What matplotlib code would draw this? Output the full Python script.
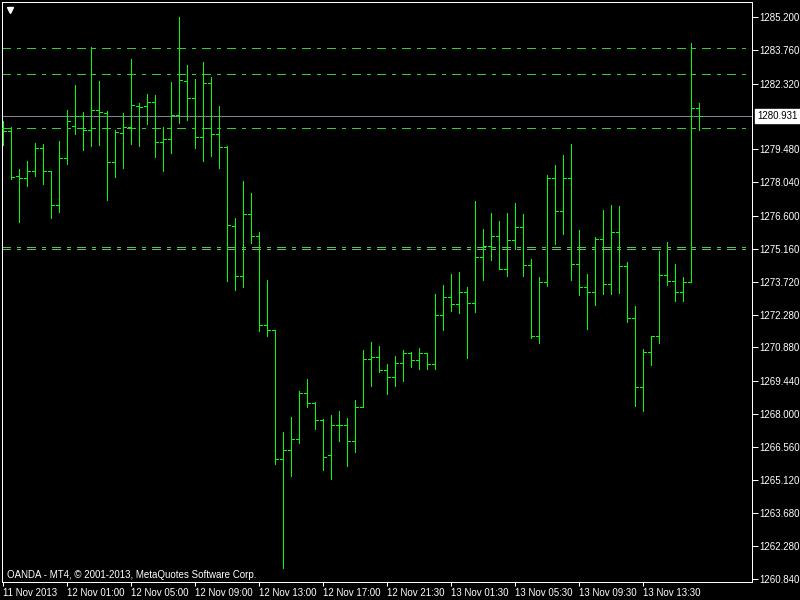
import matplotlib
matplotlib.use('Agg')
import numpy as np
import matplotlib.pyplot as plt
from matplotlib import transforms

plt.rcParams['font.family'] = ['Liberation Sans', 'DejaVu Sans']

# XAUUSD M30 bars
opens = [1280.40, 1280.27, 1278.30, 1278.22, 1278.52, 1279.52, 1278.52, 1277.05, 1279.08, 1280.49,
         1280.93, 1280.33, 1281.18, 1281.04, 1278.91, 1280.20, 1280.46, 1281.34, 1281.34, 1281.51,
         1279.78, 1279.91, 1280.95, 1282.43, 1281.70, 1280.00, 1282.34, 1280.13, 1279.56, 1276.15,
         1273.97, 1276.66, 1275.72, 1271.85, 1271.64, 1266.03, 1266.45, 1266.92, 1268.91, 1268.46,
         1267.72, 1266.20, 1267.51, 1267.51, 1266.81, 1268.29, 1270.37, 1270.45, 1269.89, 1269.59,
         1270.19, 1270.63, 1270.32, 1270.63, 1270.15, 1272.28, 1273.06, 1272.75, 1273.27, 1272.80,
         1274.79, 1275.27, 1275.70, 1274.27, 1275.53, 1276.09, 1274.44, 1271.37, 1273.71, 1278.22,
         1276.79, 1278.22, 1274.49, 1273.49, 1273.27, 1275.57, 1273.62, 1275.88, 1274.40, 1272.15,
         1269.15, 1270.67, 1271.37, 1274.01, 1273.75, 1273.27, 1273.71, 1281.25]
highs = [1280.70, 1280.46, 1278.62, 1278.97, 1279.75, 1279.70, 1278.53, 1279.83, 1281.18, 1282.26,
         1281.09, 1283.91, 1282.44, 1281.14, 1280.31, 1281.05, 1283.39, 1281.47, 1281.87, 1281.83,
         1280.46, 1282.39, 1285.23, 1283.14, 1282.52, 1283.27, 1282.62, 1281.36, 1279.61, 1276.51,
         1278.11, 1277.60, 1275.89, 1273.82, 1271.64, 1267.23, 1267.85, 1269.01, 1269.51, 1268.52,
         1267.78, 1267.95, 1268.13, 1267.82, 1268.60, 1270.77, 1271.12, 1270.94, 1270.16, 1270.51,
         1270.77, 1270.68, 1270.86, 1270.63, 1273.20, 1273.59, 1274.07, 1274.15, 1273.50, 1277.23,
         1276.02, 1276.71, 1276.37, 1276.71, 1277.15, 1276.67, 1274.72, 1273.94, 1278.36, 1278.79,
         1279.23, 1279.70, 1275.98, 1274.07, 1275.67, 1276.84, 1277.06, 1277.02, 1274.59, 1272.68,
         1270.81, 1271.37, 1275.06, 1275.45, 1274.50, 1273.94, 1284.09, 1281.48]
lows = [1279.66, 1278.19, 1276.34, 1277.90, 1278.33, 1277.98, 1276.51, 1276.77, 1278.85, 1280.14,
        1279.44, 1279.62, 1279.66, 1277.28, 1278.29, 1278.68, 1279.72, 1279.63, 1280.59, 1279.15,
        1278.55, 1279.33, 1280.63, 1280.76, 1279.52, 1278.95, 1279.17, 1278.65, 1273.75, 1273.36,
        1273.49, 1275.39, 1271.59, 1271.36, 1265.83, 1261.31, 1265.30, 1266.72, 1268.31, 1267.36,
        1265.58, 1265.19, 1266.84, 1265.75, 1266.36, 1268.31, 1269.22, 1269.83, 1268.88, 1269.22,
        1269.44, 1270.05, 1269.96, 1269.96, 1269.96, 1271.65, 1272.48, 1272.39, 1270.44, 1272.43,
        1273.82, 1274.69, 1274.27, 1273.99, 1275.14, 1273.99, 1271.30, 1271.06, 1273.56, 1275.38,
        1275.81, 1273.82, 1273.17, 1271.69, 1272.74, 1273.21, 1273.21, 1273.26, 1272.00, 1268.35,
        1268.14, 1270.13, 1271.09, 1273.60, 1272.91, 1272.91, 1273.71, 1280.30]
closes = [1280.28, 1278.26, 1278.22, 1278.52, 1279.52, 1278.52, 1277.05, 1279.08, 1280.70, 1280.93,
          1280.33, 1281.18, 1281.08, 1278.91, 1280.24, 1280.46, 1281.38, 1281.30, 1281.51, 1279.78,
          1279.91, 1280.95, 1282.48, 1281.70, 1280.00, 1282.34, 1280.13, 1279.56, 1276.20, 1273.97,
          1276.66, 1275.72, 1271.85, 1271.64, 1266.03, 1266.45, 1266.92, 1268.91, 1268.46, 1267.72,
          1266.12, 1267.51, 1267.53, 1266.81, 1268.29, 1270.37, 1270.45, 1269.89, 1269.59, 1270.19,
          1270.63, 1270.32, 1270.63, 1270.15, 1272.28, 1273.06, 1272.75, 1273.27, 1272.80, 1274.79,
          1275.27, 1275.70, 1274.27, 1275.53, 1276.09, 1274.44, 1271.37, 1273.71, 1278.22, 1276.79,
          1278.22, 1274.49, 1273.49, 1273.27, 1275.57, 1273.62, 1275.88, 1274.40, 1272.15, 1269.15,
          1270.67, 1271.37, 1274.01, 1273.75, 1273.27, 1273.71, 1281.25, 1280.931]

time_labels = ['11 Nov 2013', '12 Nov 01:00', '12 Nov 05:00', '12 Nov 09:00', '12 Nov 13:00',
               '12 Nov 17:00', '12 Nov 21:30', '13 Nov 01:30', '13 Nov 05:30', '13 Nov 09:30',
               '13 Nov 13:30']
price_ticks = [1285.200, 1283.760, 1282.320, 1279.480, 1278.040, 1276.600, 1275.160, 1273.720,
               1272.280, 1270.880, 1269.440, 1268.000, 1266.560, 1265.120, 1263.680, 1262.280,
               1260.840]
levels = [1283.86, 1282.73, 1280.39]
double_levels = [1275.24, 1275.14]
bid = 1280.931

fig = plt.figure(figsize=(8, 6), dpi=100, facecolor='black')
ax = fig.add_axes([2/800, 18/600, 750/800, 580/600])
ax.set_facecolor('black')

idx = np.arange(len(opens))
bar_col = '#00ff00'
lw = 0.6
ax.vlines(idx, lows, highs, color=bar_col, lw=lw, antialiased=False, zorder=3)
ax.hlines(opens, idx - 0.35, idx, color=bar_col, lw=lw, antialiased=False, zorder=3)
ax.hlines(closes, idx, idx + 0.35, color=bar_col, lw=lw, antialiased=False, zorder=3)

for lv in levels:
    ax.axhline(lv, color='#32cd32', lw=0.72, linestyle=(0, (9, 6, 3, 6)),
               antialiased=False, zorder=2)
for lv in double_levels:
    ax.axhline(lv, color='#5cbf5c', lw=0.72, linestyle=(0, (9, 6, 3, 6)),
               antialiased=False, zorder=2)
ax.axhline(bid, color='#778899', lw=0.72, antialiased=False, zorder=2)

ax.set_xlim(-0.1625, 93.59)
ax.set_ylim(1260.709, 1285.863)

for sp in ax.spines.values():
    sp.set_color('white')
    sp.set_linewidth(0.72)

ax.yaxis.tick_right()
ax.set_yticks(price_ticks)
ax.set_yticklabels(['%.3f' % p for p in price_ticks])
ax.tick_params(axis='y', colors='white', length=4, width=0.72, pad=1.5, labelsize=7)

ax.set_xticks(idx[::8][:len(time_labels)])
ax.set_xticklabels(time_labels)
ax.tick_params(axis='x', colors='white', length=3, width=0.72, pad=1.5, labelsize=7)
plt.setp(ax.get_xticklabels(), ha='left')

trans = transforms.blended_transform_factory(ax.transAxes, ax.transData)
ax.text(1.007, bid, '%.3f' % bid, transform=trans, color='black', fontsize=7,
        va='center', ha='left', clip_on=False,
        bbox=dict(boxstyle='square,pad=0.2', fc='white', ec='white'))

ax.plot([0.01], [0.987], marker='v', color='white', markersize=4.5, transform=ax.transAxes,
        clip_on=False)

fig.text(7/800, 1 - 575/600, 'OANDA - MT4, \u00a9 2001-2013, MetaQuotes Software Corp.',
         color='white', fontsize=7, va='center', ha='left')

plt.savefig('out.png', dpi=100, facecolor='black')
